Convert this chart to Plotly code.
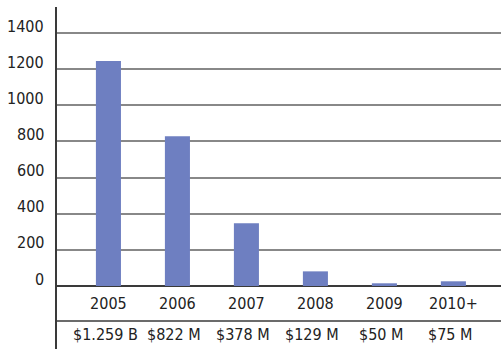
import plotly.graph_objects as go

# Annual totals by year
years = ["2005", "2006", "2007", "2008", "2009", "2010+"]
values = [1245, 829, 347, 81, 15, 26]
dollar_labels = ["$1.259 B", "$822 M", "$378 M", "$129 M", "$50 M", "$75 M"]
y_ticks = [0, 200, 400, 600, 800, 1000, 1200, 1400]

FONT = "DejaVu Sans Condensed, Liberation Sans Narrow, sans-serif"
TEXT = "#222222"
BAR = "#6e7fc1"
FS = 16

fig = go.Figure(
    go.Bar(
        x=list(range(len(years))),
        y=values,
        marker=dict(color=BAR, line=dict(width=0)),
        width=0.363,
    )
)

W, H = 501, 349
m_l, m_r, m_t, m_b = 56, 0, 7, 63.3
plot_h = H - m_t - m_b

def paper_y(px):
    # convert a pixel row to paper coordinates
    return (H - m_b - px) / plot_h

# value labels sitting on top of each gridline
for v in y_ticks:
    fig.add_annotation(
        x=0, y=v, xref="paper", yref="y",
        text=str(v), showarrow=False, xshift=-10, yshift=7,
        font=dict(family=FONT, size=FS, color=TEXT),
        xanchor="right", yanchor="middle",
    )

# dollar amounts row under the year labels
for i, lab in enumerate(dollar_labels):
    fig.add_annotation(
        x=i, y=paper_y(334), xref="x", yref="paper",
        text=lab, showarrow=False, xshift=-3,
        font=dict(family=FONT, size=FS, color=TEXT),
        xanchor="center", yanchor="middle",
    )

shapes = [
    # separator between the year row and the dollar row
    dict(type="line", xref="paper", yref="paper", x0=0, x1=1,
         y0=paper_y(320.7), y1=paper_y(320.7),
         line=dict(color="#3a3a3a", width=1.5)),
    # vertical axis line running the full height
    dict(type="line", xref="paper", yref="paper", x0=0, x1=0,
         y0=paper_y(H), y1=1,
         line=dict(color="#3a3a3a", width=2)),
]

fig.update_layout(
    width=W, height=H,
    margin=dict(l=m_l, r=m_r, t=m_t, b=m_b, pad=0),
    paper_bgcolor="white", plot_bgcolor="white",
    showlegend=False,
    shapes=shapes,
    xaxis=dict(
        range=[-0.76, 5.69],
        tickmode="array", tickvals=list(range(len(years))), ticktext=years,
        showgrid=False, zeroline=False, showline=False,
        ticks="", ticklabelstandoff=6,
        tickfont=dict(family=FONT, size=FS, color=TEXT),
    ),
    yaxis=dict(
        range=[0, 1544],
        tickmode="array", tickvals=y_ticks,
        showticklabels=False,
        showgrid=True, gridcolor="#888888", gridwidth=1.5,
        zeroline=True, zerolinecolor="#3a3a3a", zerolinewidth=1.5,
        showline=False, ticks="",
    ),
)

fig.write_html("out.html")
